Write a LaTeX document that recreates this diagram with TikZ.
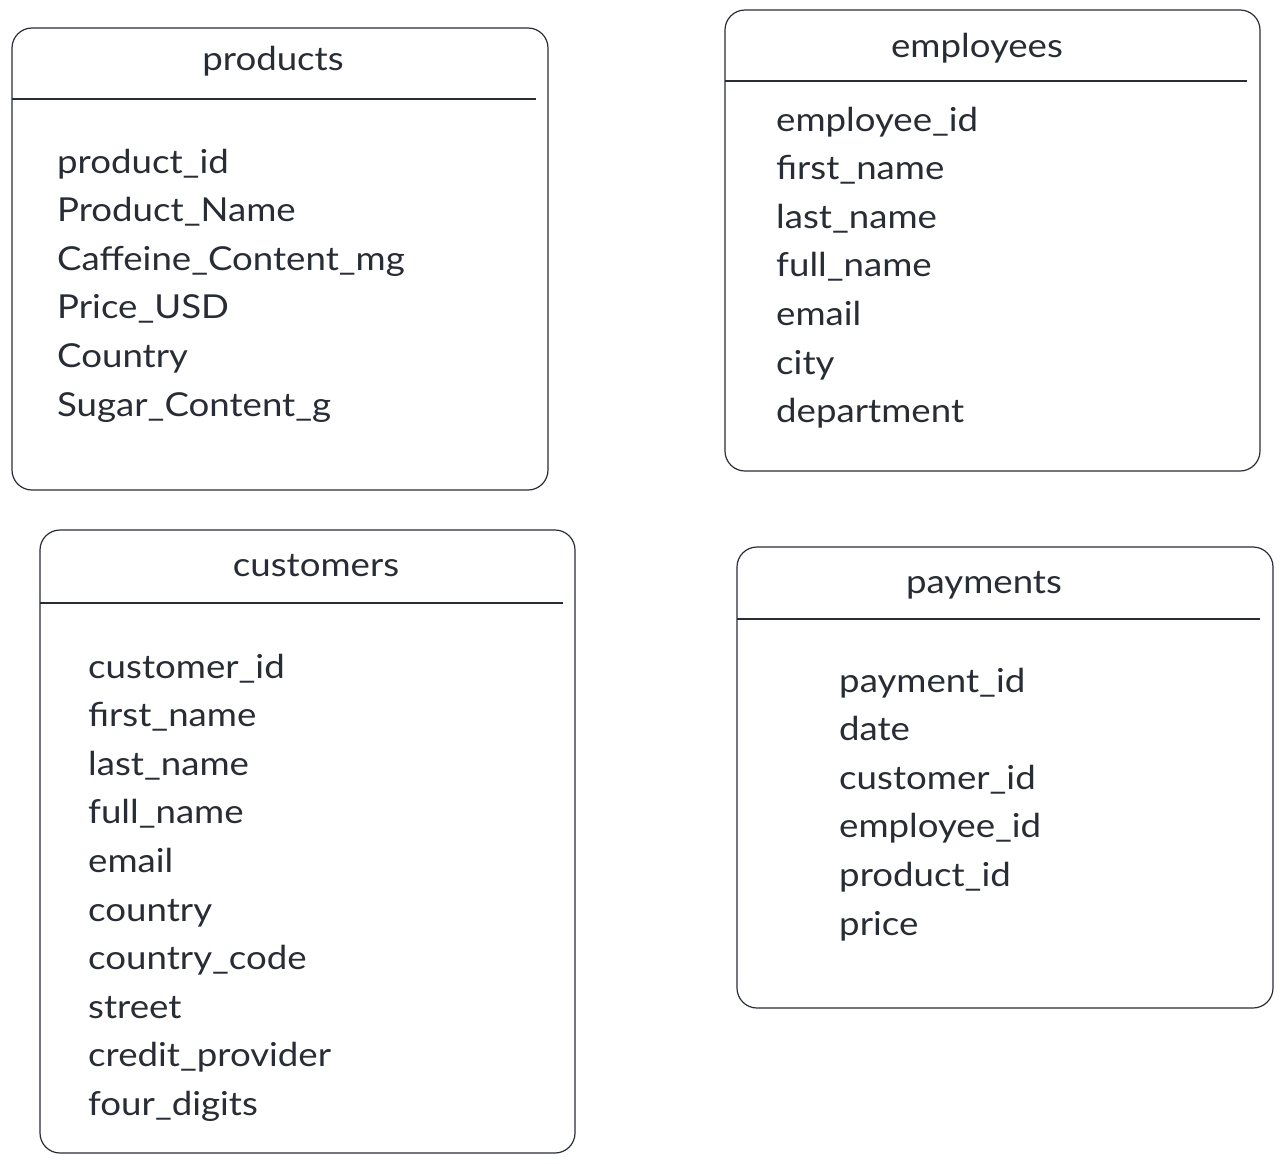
\documentclass[tikz,border=0pt]{standalone}
\usepackage{fontspec}
\setmainfont{Lato}[FakeStretch=1.11]
\definecolor{ink}{RGB}{40,44,52}
\begin{document}
\begin{tikzpicture}[x=1pt,y=-1pt,
  tbox/.style={draw=ink,line width=1.2pt,rounded corners=20pt},
  sep/.style={draw=ink,line width=1.2pt},
  ttl/.style={anchor=base,inner sep=0pt,text=ink,font=\fontsize{33}{40}\selectfont},
  fld/.style={anchor=base west,inner sep=0pt,text=ink,font=\fontsize{33}{40}\selectfont}]
\useasboundingbox (0,0) rectangle (1283,1163);
% products
\draw[tbox] (12,28) rectangle (548,490);
\coordinate (pl) at (12,99); \coordinate (pr) at (536,99);
\draw[sep] (pl) -- (pr);
\node[ttl] (pt) at (273,70) {products};
\foreach \t [count=\i] in {product\_id,Product\_Name,Caffeine\_Content\_mg,Price\_USD,Country,Sugar\_Content\_g}
  \node[fld] (p\i) at (57,{161+12+(\i-1)*48.6}) {\t};
% employees
\draw[tbox] (725,10) rectangle (1260,471);
\coordinate (el) at (725,81); \coordinate (er) at (1247,81);
\draw[sep] (el) -- (er);
\node[ttl] (et) at (977,57) {employees};
\foreach \t [count=\i] in {employee\_id,first\_name,last\_name,full\_name,email,city,department}
  \node[fld] (e\i) at (776,{119+12+(\i-1)*48.6}) {\t};
% customers
\draw[tbox] (40,530) rectangle (575,1153);
\coordinate (cl) at (40,603); \coordinate (cr) at (563,603);
\draw[sep] (cl) -- (cr);
\node[ttl] (ct) at (316,576) {customers};
\foreach \t [count=\i] in {customer\_id,first\_name,last\_name,full\_name,email,country,country\_code,street,credit\_provider,four\_digits}
  \node[fld] (c\i) at (88,{666+12+(\i-1)*48.6}) {\t};
% payments
\draw[tbox] (737,547) rectangle (1273,1008);
\coordinate (yl) at (737,619); \coordinate (yr) at (1260,619);
\draw[sep] (yl) -- (yr);
\node[ttl] (yt) at (984,593) {payments};
\foreach \t [count=\i] in {payment\_id,date,customer\_id,employee\_id,product\_id,price}
  \node[fld] (y\i) at (839,{680+12+(\i-1)*48.6}) {\t};
\end{tikzpicture}
\end{document}
